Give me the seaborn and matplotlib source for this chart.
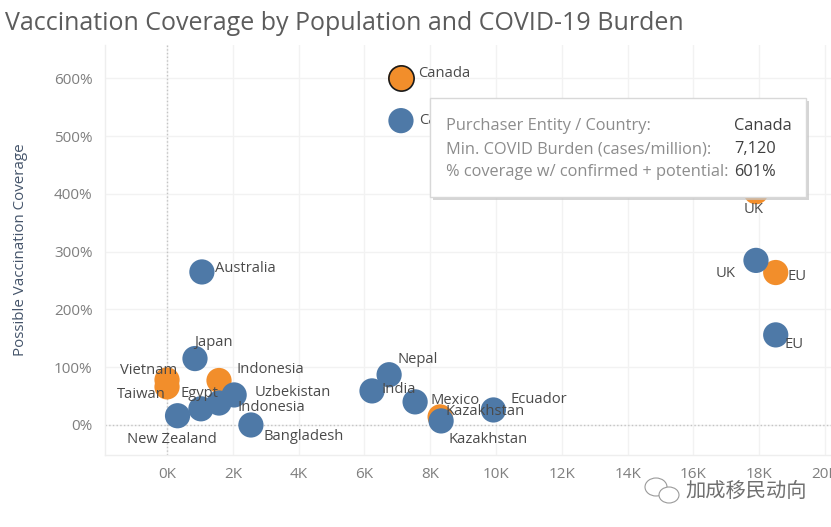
import matplotlib
matplotlib.use('Agg')
import matplotlib.pyplot as plt
import pandas as pd
import seaborn as sns
from matplotlib.patches import Ellipse, Rectangle

# values
countries_confirmed_potential = ['Canada', 'Vietnam', 'Taiwan', 'Indonesia', 'Kazakhstan', 'EU', 'UK']
burden_confirmed_potential = [7110, 0, 0, 1580, 8300, 18500, 17900]
coverage_confirmed_potential = [601, 78, 66, 77, 14, 264, 404]

countries_confirmed = ['Canada', 'Australia', 'Japan', 'UK', 'EU', 'Nepal', 'India', 'Mexico', 'Kazakhstan',
                       'Ecuador', 'Uzbekistan', 'Indonesia', 'Egypt', 'New Zealand', 'Bangladesh']
burden_confirmed = [7110, 1060, 850, 17900, 18500, 6750, 6230, 7540, 8330, 9920, 2040, 1580, 1030, 320, 2550]
coverage_confirmed = [527, 265, 115, 285, 156, 87, 59, 40, 7, 26, 52, 38, 28, 16, 0]

x_ticks = [0, 2000, 4000, 6000, 8000, 10000, 12000, 14000, 16000, 18000, 20000]
x_tick_labels = ['0K', '2K', '4K', '6K', '8K', '10K', '12K', '14K', '16K', '18K', '20K']
y_ticks = [0, 100, 200, 300, 400, 500, 600]
y_tick_labels = ['0%', '100%', '200%', '300%', '400%', '500%', '600%']

tooltip_names = ['Purchaser Entity / Country:', 'Min. COVID Burden (cases/million):', '% coverage w/ confirmed + potential:']
tooltip_values = ['Canada', '7,120', '601%']

# label offsets in pixels from the point
offsets_confirmed_potential = [(17, 4), (-47, 9), (-50, -8), (17, 11), (5, 5), (12, -4), (-12, -18)]
offsets_confirmed = [(18, 0), (13, 3), (-1, 16), (-40, -13), (9, -10), (8, 15), (9, 1), (15, 1), (7, -19),
                     (17, 10), (20, 2), (18, -4), (-20, 15), (-51, -24), (13, -12)]

df1 = pd.DataFrame({'country': countries_confirmed_potential, 'burden': burden_confirmed_potential,
                    'coverage': coverage_confirmed_potential, 'kind': 'potential'})
df2 = pd.DataFrame({'country': countries_confirmed, 'burden': burden_confirmed,
                    'coverage': coverage_confirmed, 'kind': 'confirmed'})
df = pd.concat([df1, df2], ignore_index=True)

plt.rcParams['font.family'] = ['Open Sans', 'Noto Sans CJK SC', 'DejaVu Sans']

W, H = 831, 527
fig = plt.figure(figsize=(W / 100, H / 100), dpi=100)
ax = fig.add_axes([105 / W, 1 - 455 / H, (W - 105) / W, (455 - 45) / H])

sns.scatterplot(data=df, x='burden', y='coverage', hue='kind', palette={'potential': '#f28e2b', 'confirmed': '#4e79a7'},
                s=330, linewidth=0, alpha=1, legend=False, ax=ax, zorder=3, clip_on=False)
# the selected mark has a black outline
sns.scatterplot(data=df[(df.kind == 'potential') & (df.country == 'Canada')], x='burden', y='coverage',
                color='#f28e2b', edgecolor='#1a1a1a', linewidth=1.2, s=330, legend=False, ax=ax, zorder=3)

ax.set_xlim(-1885, 20180)
ax.set_ylim(-52, 658)
ax.set_xticks(x_ticks)
ax.set_xticklabels(x_tick_labels)
ax.set_yticks(y_ticks)
ax.set_yticklabels(y_tick_labels)
ax.tick_params(length=0, labelsize=11, labelcolor='#7f7f7f', pad=9)
ax.grid(True, color='#f2f2f2', linewidth=1)
ax.set_axisbelow(True)
ax.axhline(0, color='#c4c4c4', linewidth=1, linestyle=':', zorder=1)
ax.axvline(0, color='#c4c4c4', linewidth=1, linestyle=':', zorder=1)
ax.set_xlabel('')
ax.set_ylabel('')

for s in ['top', 'right']:
    ax.spines[s].set_visible(False)
for s in ['left', 'bottom']:
    ax.spines[s].set_color('#eeeeee')
    ax.spines[s].set_linewidth(1)

for (_, row), off in zip(df.iterrows(), offsets_confirmed_potential + offsets_confirmed):
    ax.annotate(row['country'], (row['burden'], row['coverage']), xytext=off, textcoords='offset pixels',
                fontsize=10.6, color='#4a4a4a', ha='left', va='center', zorder=4)

fig.text(5 / W, 1 - 24 / H, 'Vaccination Coverage by Population and COVID-19 Burden', fontsize=18,
         color='#5c5c5c', ha='left', va='center')
fig.text(21 / W, 1 - 250 / H, 'Possible Vaccination Coverage', fontsize=10.9, color='#44546a', rotation=90,
         ha='center', va='center')

# tooltip, placed in figure pixels
def to_fig(x, y):
    return x / W, 1 - y / H

fig.add_artist(Rectangle(to_fig(433, 200), 376 / W, 99 / H, facecolor='#c4c4c4', edgecolor='none', zorder=8, alpha=0.7))
fig.add_artist(Rectangle(to_fig(430, 197), 376 / W, 99 / H, facecolor='white', edgecolor='#d8d8d8', linewidth=1, zorder=9))
for i, y in enumerate([125, 148, 171]):
    fig.text(446 / W, 1 - (y + 1) / H, tooltip_names[i], fontsize=11.8, color='#8c8c8c', va='center', zorder=10)
    fig.text(734 / W, 1 - (y + 1) / H, tooltip_values[i], fontsize=11.8, color='#3f3f3f', va='center', zorder=10)

# watermark
fig.text(685 / W, 1 - 491 / H, '加成移民动向', fontsize=14.6, color='#707070', va='center', ha='left',
         family=['Noto Sans CJK SC', 'DejaVu Sans'])
for cx, cy, w, h in [(656, 487, 22, 18), (669, 495, 20, 16)]:
    fig.add_artist(Ellipse(to_fig(cx, cy), w / W, h / H, facecolor='white', edgecolor='#9a9a9a', linewidth=0.8))

fig.savefig('out.png', dpi=100)
